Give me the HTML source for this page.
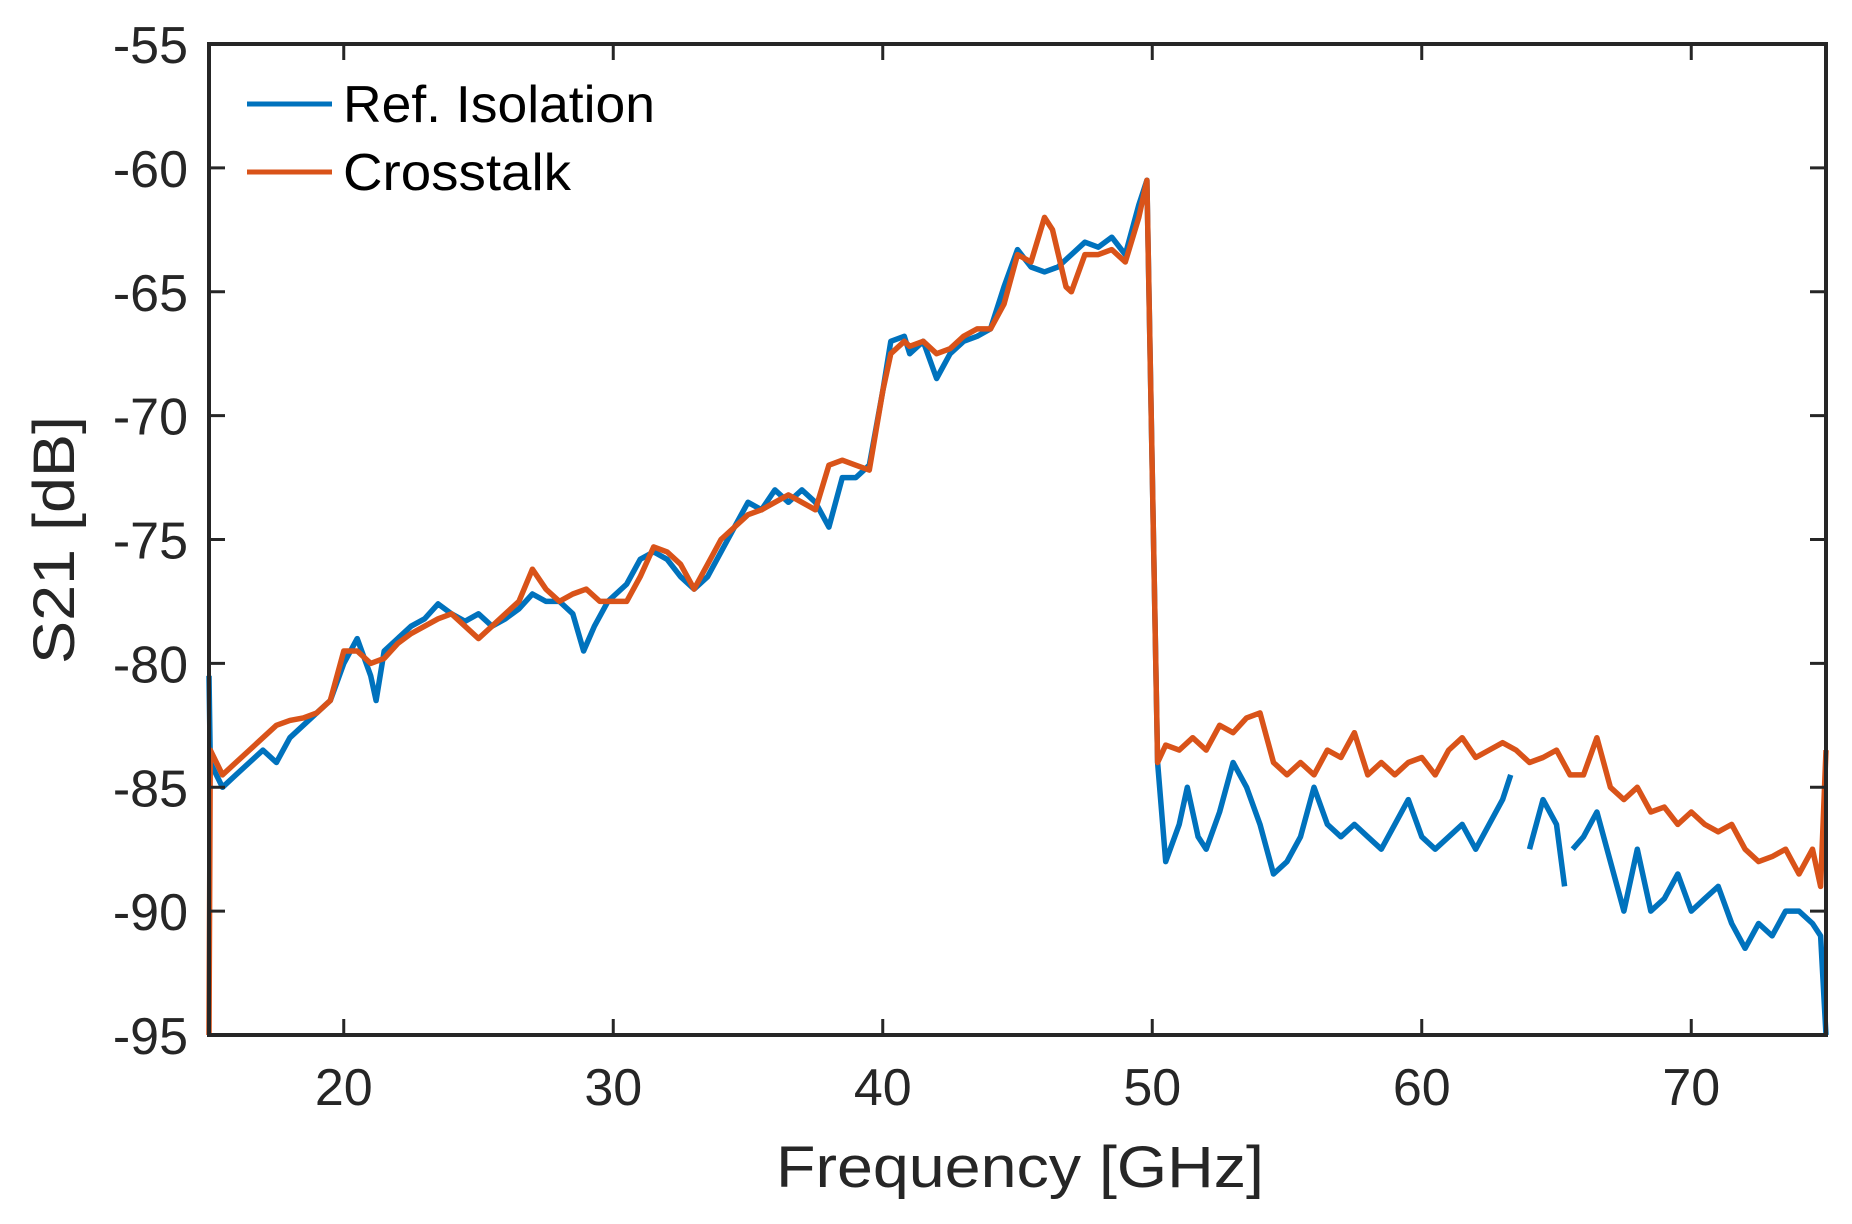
<!DOCTYPE html>
<html><head><meta charset="utf-8"><style>
html,body{margin:0;padding:0;background:#fff;}
svg{display:block;font-family:"Liberation Sans",Arial,sans-serif;}
</style></head><body>
<svg id="chart" width="1852" height="1224" viewBox="0 0 1852 1224">
<g id="plot"></g>
<g id="axes"></g>
<text x="1020" y="1187" font-size="58" text-anchor="middle" fill="#262626" textLength="488" lengthAdjust="spacingAndGlyphs">Frequency [GHz]</text>
<text transform="translate(74,540) rotate(-90)" font-size="58" text-anchor="middle" fill="#262626" textLength="248" lengthAdjust="spacingAndGlyphs">S21 [dB]</text>
<g>
<line x1="247" y1="104" x2="332" y2="104" stroke="#0072BD" stroke-width="5"/>
<text x="343" y="122" font-size="52" fill="#000" textLength="312" lengthAdjust="spacingAndGlyphs">Ref. Isolation</text>
<line x1="247" y1="172" x2="332" y2="172" stroke="#D95319" stroke-width="5"/>
<text x="343" y="190" font-size="52" fill="#000" textLength="228" lengthAdjust="spacingAndGlyphs">Crosstalk</text>
</g>
</svg>
<script>
const xTicks=[20,30,40,50,60,70];
const yTicks=[-55,-60,-65,-70,-75,-80,-85,-90,-95];
const freqBlue=[15,15.05,15.5,16,16.5,17,17.5,18,18.5,19,19.5,20,20.5,21,21.2,21.5,22,22.5,23,23.5,24,24.5,25,25.5,26,26.5,27,27.5,28,28.5,28.9,29.3,29.8,30.5,31,31.5,32,32.5,33,33.5,34,34.5,35,35.5,36,36.5,37,37.5,38,38.5,39,39.5,40,40.3,40.8,41,41.5,42,42.5,43,43.5,44,44.5,45,45.5,46,46.5,47,47.5,48,48.5,49,49.5,49.8,50.2,50.5,51,51.3,51.7,52,52.5,53,53.5,54,54.5,55,55.5,56,56.5,57,57.5,58,58.5,59,59.5,60,60.5,61,61.5,62,62.5,63,63.3,63.6,64,64.5,65,65.3,65.5,65.6,66,66.5,67,67.5,68,68.5,69,69.5,70,70.5,71,71.5,72,72.5,73,73.5,74,74.5,74.8,75];
const refIsolation=[-80.5,-84,-85,-84.5,-84,-83.5,-84,-83,-82.5,-82,-81.5,-80,-79,-80.5,-81.5,-79.5,-79,-78.5,-78.2,-77.6,-78,-78.3,-78,-78.5,-78.2,-77.8,-77.2,-77.5,-77.5,-78,-79.5,-78.5,-77.5,-76.8,-75.8,-75.5,-75.8,-76.5,-77,-76.5,-75.5,-74.5,-73.5,-73.8,-73,-73.5,-73,-73.5,-74.5,-72.5,-72.5,-72,-69,-67,-66.8,-67.5,-67,-68.5,-67.5,-67,-66.8,-66.5,-64.8,-63.3,-64,-64.2,-64,-63.5,-63,-63.2,-62.8,-63.5,-61.5,-60.5,-84,-88,-86.5,-85,-87,-87.5,-86,-84,-85,-86.5,-88.5,-88,-87,-85,-86.5,-87,-86.5,-87,-87.5,-86.5,-85.5,-87,-87.5,-87,-86.5,-87.5,-86.5,-85.5,-84.5,null,-87.5,-85.5,-86.5,-89,null,-87.5,-87,-86,-88,-90,-87.5,-90,-89.5,-88.5,-90,-89.5,-89,-90.5,-91.5,-90.5,-91,-90,-90,-90.5,-91,-95];
const freqOrange=[15,15.05,15.5,16,16.5,17,17.5,18,18.5,19,19.5,20,20.5,21,21.5,22,22.5,23,23.5,24,24.5,25,25.5,26,26.5,27,27.5,28,28.5,29,29.5,30,30.5,31,31.5,32,32.5,33,33.5,34,34.5,35,35.5,36,36.5,37,37.5,38,38.5,39,39.5,40,40.3,40.8,41,41.5,42,42.5,43,43.5,44,44.5,45,45.5,46,46.3,46.8,47,47.5,48,48.5,49,49.5,49.8,50.2,50.5,51,51.5,52,52.5,53,53.5,54,54.5,55,55.5,56,56.5,57,57.5,58,58.5,59,59.5,60,60.5,61,61.5,62,62.5,63,63.5,64,64.5,65,65.5,66,66.5,67,67.5,68,68.5,69,69.5,70,70.5,71,71.5,72,72.5,73,73.5,74,74.5,74.8,75];
const crosstalk=[-95,-83.5,-84.5,-84,-83.5,-83,-82.5,-82.3,-82.2,-82,-81.5,-79.5,-79.5,-80,-79.8,-79.2,-78.8,-78.5,-78.2,-78,-78.5,-79,-78.5,-78,-77.5,-76.2,-77,-77.5,-77.2,-77,-77.5,-77.5,-77.5,-76.5,-75.3,-75.5,-76,-77,-76,-75,-74.5,-74,-73.8,-73.5,-73.2,-73.5,-73.8,-72,-71.8,-72,-72.2,-69,-67.5,-67,-67.2,-67,-67.5,-67.3,-66.8,-66.5,-66.5,-65.5,-63.5,-63.8,-62,-62.5,-64.8,-65,-63.5,-63.5,-63.3,-63.8,-62,-60.5,-84,-83.3,-83.5,-83,-83.5,-82.5,-82.8,-82.2,-82,-84,-84.5,-84,-84.5,-83.5,-83.8,-82.8,-84.5,-84,-84.5,-84,-83.8,-84.5,-83.5,-83,-83.8,-83.5,-83.2,-83.5,-84,-83.8,-83.5,-84.5,-84.5,-83,-85,-85.5,-85,-86,-85.8,-86.5,-86,-86.5,-86.8,-86.5,-87.5,-88,-87.8,-87.5,-88.5,-87.5,-89,-83.5];

const L=209,R=1826,T=44,B=1035;
const xS=f=>L+(f-15)/(75-15)*(R-L);
const yS=v=>T+(-55-v)/(40)*(B-T);
const NS='http://www.w3.org/2000/svg';
const plot=document.getElementById('plot'), axes=document.getElementById('axes');
function mk(tag,attrs,parent){const e=document.createElementNS(NS,tag);for(const k in attrs)e.setAttribute(k,attrs[k]);parent.appendChild(e);return e;}
function series(xs,ys,color,name){
  let d='',pen=false;
  for(let i=0;i<xs.length;i++){
    if(ys[i]===null){pen=false;continue;}
    d+=(pen?'L':'M')+xS(xs[i]).toFixed(1)+' '+yS(ys[i]).toFixed(1);pen=true;
  }
  const p=mk('path',{d:d,fill:'none',stroke:color,'stroke-width':5.5,'stroke-linejoin':'round'},plot);
  
  
}
series(freqBlue,refIsolation,'#0072BD','series-ref-isolation');
series(freqOrange,crosstalk,'#D95319','series-crosstalk');
const box=mk('rect',{x:L,y:T,width:R-L,height:B-T,fill:'none',stroke:'#262626','stroke-width':4},axes);


xTicks.forEach(t=>{
  const x=xS(t);
  mk('line',{x1:x,y1:B,x2:x,y2:B-16,stroke:'#262626','stroke-width':3},axes);
  mk('line',{x1:x,y1:T,x2:x,y2:T+16,stroke:'#262626','stroke-width':3},axes);
  const tx=mk('text',{x:x,y:B+70,'font-size':52,'text-anchor':'middle',fill:'#262626'},axes);
  tx.textContent=t;
  
  
});
yTicks.forEach(t=>{
  const y=yS(t);
  mk('line',{x1:L,y1:y,x2:L+16,y2:y,stroke:'#262626','stroke-width':3},axes);
  mk('line',{x1:R,y1:y,x2:R-16,y2:y,stroke:'#262626','stroke-width':3},axes);
  const ty=mk('text',{x:188,y:y+19,'font-size':52,'text-anchor':'end',fill:'#262626'},axes);
  ty.textContent=t;
  
  
});
</script>
</body></html>
